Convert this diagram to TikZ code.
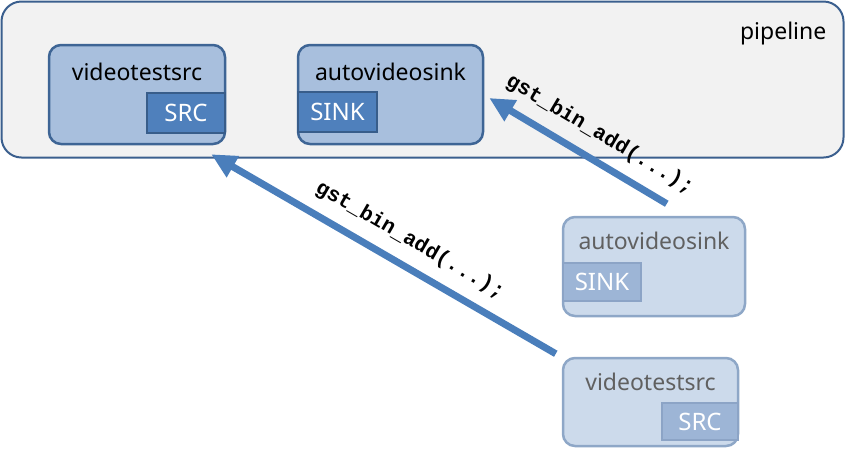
\documentclass[tikz,border=0pt]{standalone}
\usepackage{fontspec}
\setmainfont{Noto Sans}
\setmonofont{Liberation Mono}
\usepackage{tikz}
\usetikzlibrary{positioning,arrows.meta}
\definecolor{PipeFill}{HTML}{F2F2F2}
\definecolor{PipeLine}{HTML}{3B5F8E}
\definecolor{ElemFill}{HTML}{A8BFDD}
\definecolor{ElemLine}{HTML}{3E6595}
\definecolor{PadFill}{HTML}{4F80BC}
\definecolor{PadLine}{HTML}{385D8A}
\definecolor{FadeFill}{HTML}{CCDAEB}
\definecolor{FadeLine}{HTML}{8EA7C7}
\definecolor{FadePad}{HTML}{9DB5D6}
\definecolor{FadePadLine}{HTML}{8CA4C6}
\definecolor{FadeText}{HTML}{606060}
\definecolor{CallArrow}{HTML}{4A7EBB}
\newcommand{\ElemBox}[7][28pt]{%
\node[#2, minimum width=#5, minimum height=#6] (#3) at #4 {};
\node[#2 title] (#3-title) at ([yshift=-#1]#3.north) {#7};
}

\begin{document}
\begin{tikzpicture}[
    x=1pt,
    y=-1pt,
    every node/.style={font=\fontsize{23}{26}\selectfont},
    elem/.style={rounded corners=12pt, draw=ElemLine, fill=ElemFill, line width=2.5pt, inner sep=0pt},
    elem title/.style={inner sep=0pt, text=black},
    fade/.style={rounded corners=12pt, draw=FadeLine, fill=FadeFill, line width=2.5pt, inner sep=0pt},
    fade title/.style={inner sep=0pt, text=FadeText},
    pad/.style={draw=PadLine, fill=PadFill, line width=2.5pt, text=white, minimum height=40pt, inner sep=0pt,
                font=\fontsize{24}{26}\selectfont},
    fadepad/.style={draw=FadePadLine, fill=FadePad, line width=2.5pt, text=white, minimum height=38pt, inner sep=0pt,
                font=\fontsize{24}{26}\selectfont},
    addarrow/.style={-{Triangle[length=25pt,width=23pt]}, CallArrow, line width=7pt},
    calllabel/.style={font=\fontsize{21}{23}\selectfont\ttfamily\bfseries, text=black, inner sep=0pt}
]
\useasboundingbox (0,0) rectangle (845,451);

% Pipeline
\node[rounded corners=20pt, draw=PipeLine, fill=PipeFill, line width=2pt,
      minimum width=842pt, minimum height=156pt, inner sep=0pt] (pipe) at (422.5,79.5) {};
\node[anchor=north east, inner sep=0pt] (pipe-title) at ([xshift=-18pt,yshift=-21pt]pipe.north east) {pipeline};

% Elements inside the pipeline
\ElemBox{elem}{vsrc}{(137,94.5)}{176pt}{99pt}{videotestsrc}
\node[pad, minimum width=78pt, anchor=north east] (vsrc-pad) at ([yshift=-48pt]vsrc.north east) {SRC};

\ElemBox{elem}{vsink}{(390.5,94.5)}{185pt}{99pt}{autovideosink}
\node[pad, minimum width=79pt, anchor=north west] (vsink-pad) at ([yshift=-47pt]vsink.north west) {SINK};

% Elements outside, not yet added
\ElemBox[25pt]{fade}{vsinkb}{(654,266.5)}{182pt}{99pt}{autovideosink}
\node[fadepad, minimum width=78pt, anchor=north west] (vsinkb-pad) at ([yshift=-46pt]vsinkb.north west) {SINK};

\ElemBox[25pt]{fade}{vsrcb}{(650.5,402)}{175pt}{88pt}{videotestsrc}
\node[fadepad, minimum width=76pt, minimum height=37pt, anchor=north east] (vsrcb-pad) at ([yshift=-45pt]vsrcb.north east) {SRC};

% gst_bin_add arrows
\draw[addarrow] ([shift={(-6,-3)}]vsrcb.north west) --
    node[calllabel, pos=0.46, sloped, above=12pt] (add-src) {gst\_bin\_add(...);}
    ([shift={(-15,9)}]vsrc.south east);
\draw[addarrow] ([shift={(105,-12)}]vsinkb.north west) --
    node[calllabel, pos=0.45, sloped, above=12pt] (add-sink) {gst\_bin\_add(...);}
    ([shift={(5,3.5)}]vsink.east);

\end{tikzpicture}
\end{document}
